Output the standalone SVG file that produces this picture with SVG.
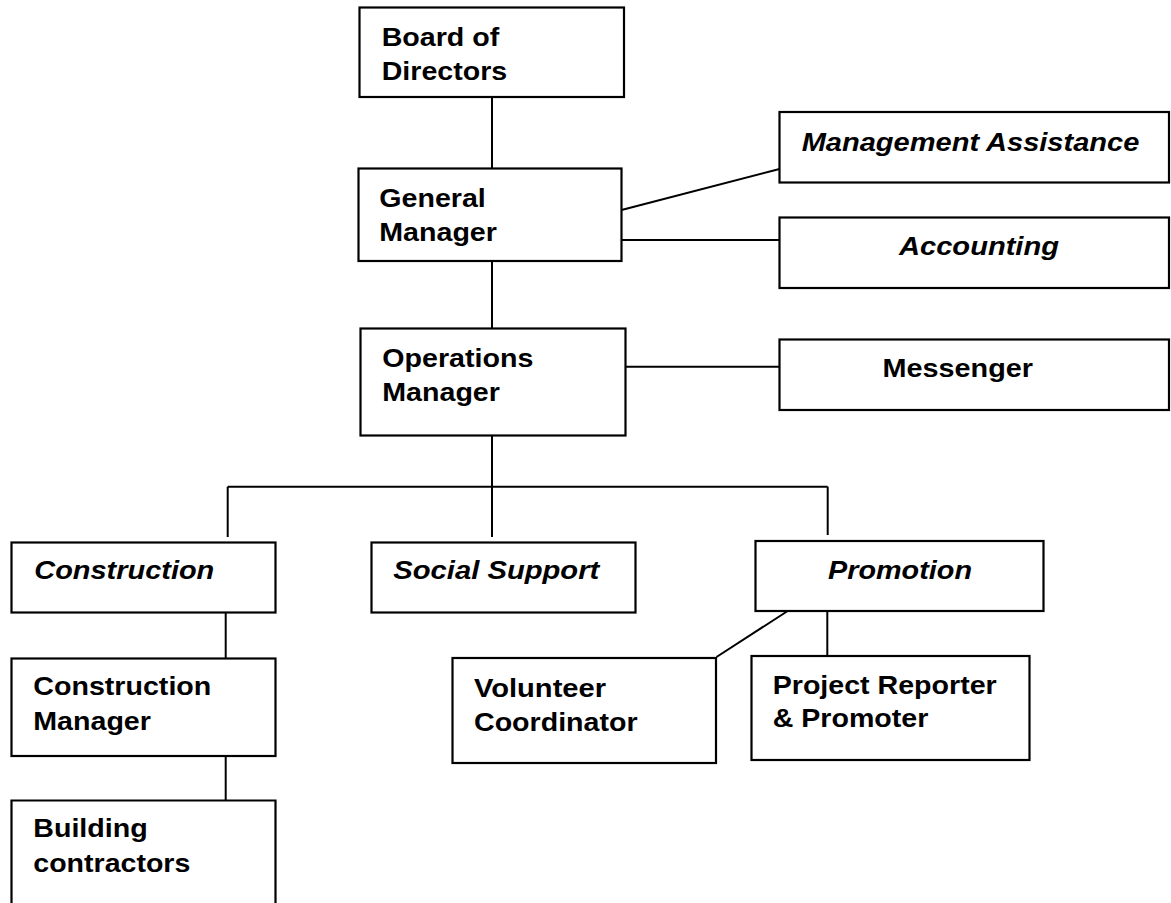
<svg xmlns="http://www.w3.org/2000/svg" width="1171" height="903" viewBox="0 0 1171 903">
<style>
.box{fill:#fff;stroke:#000;stroke-width:2.2}
.ln{fill:none;stroke:#000;stroke-width:2}
text{font-family:"Liberation Sans",Arial,sans-serif;font-weight:bold;font-size:26px;fill:#000}
.it{font-style:italic}
</style>
<rect width="1171" height="903" fill="#fff"/>
<g id="connectors">
<line class="ln" x1="492" y1="97" x2="492" y2="168.5"/>
<line class="ln" x1="621.5" y1="210" x2="779.5" y2="169"/>
<line class="ln" x1="621.5" y1="240" x2="779.5" y2="240"/>
<line class="ln" x1="492" y1="261" x2="492" y2="328.5"/>
<line class="ln" x1="625.5" y1="366.7" x2="779.5" y2="366.7"/>
<line class="ln" x1="492" y1="435.5" x2="492" y2="537"/>
<line class="ln" x1="227.7" y1="486.7" x2="827.7" y2="486.7"/>
<line class="ln" x1="227.7" y1="486.7" x2="227.7" y2="537"/>
<line class="ln" x1="827.7" y1="486.7" x2="827.7" y2="535"/>
<line class="ln" x1="225.7" y1="612.5" x2="225.7" y2="658.5"/>
<line class="ln" x1="225.7" y1="756" x2="225.7" y2="800.5"/>
<line class="ln" x1="787.7" y1="611" x2="716.5" y2="657"/>
<line class="ln" x1="827.3" y1="611" x2="827.3" y2="656"/>
</g>
<g id="board">
<rect class="box" x="359.5" y="7.5" width="264.5" height="89.5"/>
<text x="381.7" y="45.7" textLength="117.6" lengthAdjust="spacingAndGlyphs">Board of</text>
<text x="381.7" y="79.7" textLength="125.5" lengthAdjust="spacingAndGlyphs">Directors</text>
</g>
<g id="general-manager">
<rect class="box" x="358.5" y="168.5" width="263" height="92.5"/>
<text x="379.3" y="207.3" textLength="106.5" lengthAdjust="spacingAndGlyphs">General</text>
<text x="379.3" y="241.3" textLength="117.6" lengthAdjust="spacingAndGlyphs">Manager</text>
</g>
<g id="management-assistance">
<rect class="box" x="779.5" y="112" width="389.5" height="70.5"/>
<text class="it" x="801.7" y="151" textLength="337.6" lengthAdjust="spacingAndGlyphs">Management Assistance</text>
</g>
<g id="accounting">
<rect class="box" x="779.5" y="217.5" width="389.5" height="70.5"/>
<text class="it" x="899" y="254.5" textLength="160" lengthAdjust="spacingAndGlyphs">Accounting</text>
</g>
<g id="operations-manager">
<rect class="box" x="360.5" y="328.5" width="265" height="107"/>
<text x="382.3" y="366.7" textLength="151" lengthAdjust="spacingAndGlyphs">Operations</text>
<text x="382.3" y="400.7" textLength="117.6" lengthAdjust="spacingAndGlyphs">Manager</text>
</g>
<g id="messenger">
<rect class="box" x="779.5" y="339.5" width="389.5" height="70.5"/>
<text x="882.5" y="377.3" textLength="150.5" lengthAdjust="spacingAndGlyphs">Messenger</text>
</g>
<g id="construction">
<rect class="box" x="11.5" y="542.5" width="264" height="70"/>
<text class="it" x="34.3" y="579.3" textLength="180" lengthAdjust="spacingAndGlyphs">Construction</text>
</g>
<g id="social-support">
<rect class="box" x="371.5" y="542.5" width="264" height="70"/>
<text class="it" x="393.3" y="579.3" textLength="206" lengthAdjust="spacingAndGlyphs">Social Support</text>
</g>
<g id="promotion">
<rect class="box" x="755.5" y="541" width="288" height="70"/>
<text class="it" x="828" y="579.3" textLength="144" lengthAdjust="spacingAndGlyphs">Promotion</text>
</g>
<g id="construction-manager">
<rect class="box" x="11.5" y="658.5" width="264" height="97.5"/>
<text x="33.3" y="695" textLength="178" lengthAdjust="spacingAndGlyphs">Construction</text>
<text x="33.3" y="730" textLength="117.6" lengthAdjust="spacingAndGlyphs">Manager</text>
</g>
<g id="building-contractors">
<path class="box" d="M11.5 910 V800.5 H275.5 V910"/>
<text x="33.3" y="836.7" textLength="114.4" lengthAdjust="spacingAndGlyphs">Building</text>
<text x="33.3" y="871.7" textLength="157" lengthAdjust="spacingAndGlyphs">contractors</text>
</g>
<g id="volunteer-coordinator">
<rect class="box" x="452.5" y="658" width="263.5" height="105"/>
<text x="474" y="696.7" textLength="132" lengthAdjust="spacingAndGlyphs">Volunteer</text>
<text x="474" y="730.7" textLength="163.6" lengthAdjust="spacingAndGlyphs">Coordinator</text>
</g>
<g id="project-reporter">
<rect class="box" x="751.5" y="656" width="278" height="104"/>
<text x="772.7" y="694" textLength="224" lengthAdjust="spacingAndGlyphs">Project Reporter</text>
<text x="772.7" y="727.3" textLength="155.7" lengthAdjust="spacingAndGlyphs">&amp; Promoter</text>
</g>
</svg>
